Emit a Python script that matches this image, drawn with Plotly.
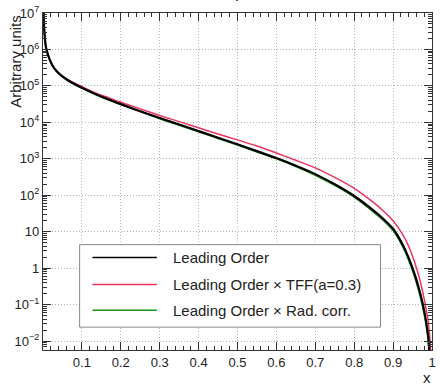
import plotly.graph_objects as go

# ---- data ----
x_lo = [0.0015, 0.004, 0.008, 0.017, 0.029, 0.042, 0.059, 0.076, 0.1, 0.13, 0.16, 0.2, 0.23, 0.27,
        0.3, 0.35, 0.4, 0.45, 0.5, 0.55, 0.6, 0.65, 0.7, 0.75, 0.8, 0.85, 0.875, 0.9, 0.91, 0.92, 0.93, 0.94,
        0.95, 0.96, 0.97, 0.98, 0.99, 0.994]
logy_lo = [7.0, 6.41, 6.04, 5.73, 5.48, 5.33, 5.19, 5.08, 4.95, 4.80, 4.665, 4.50, 4.38, 4.23,
           4.12, 3.94, 3.76, 3.58, 3.40, 3.21, 3.02, 2.81, 2.58, 2.30, 1.98, 1.58, 1.35, 1.08, 0.92, 0.74,
           0.53, 0.28, 0.0, -0.32, -0.70, -1.17, -1.85, -2.4]

x_tff = [0.0015, 0.004, 0.008, 0.017, 0.029, 0.042, 0.059, 0.076, 0.1, 0.13, 0.16, 0.2, 0.23, 0.27,
         0.3, 0.35, 0.4, 0.45, 0.5, 0.55, 0.6, 0.65, 0.7, 0.75, 0.8, 0.85, 0.875, 0.9, 0.91, 0.92, 0.93, 0.94,
         0.95, 0.96, 0.97, 0.98, 0.99, 0.995, 0.998]
logy_tff = [7.0, 6.41, 6.04, 5.73, 5.48, 5.33, 5.20, 5.10, 4.98, 4.83, 4.71, 4.55, 4.44, 4.30,
            4.19, 4.02, 3.85, 3.68, 3.52, 3.35, 3.16, 2.96, 2.75, 2.49, 2.19, 1.80, 1.57, 1.30, 1.16, 1.00,
            0.82, 0.60, 0.33, 0.01, -0.37, -0.85, -1.45, -2.0, -2.6]

x_rad = [0.0015, 0.004, 0.008, 0.017, 0.029, 0.042, 0.059, 0.076, 0.1, 0.13, 0.16, 0.2, 0.23, 0.27,
         0.3, 0.35, 0.4, 0.45, 0.5, 0.55, 0.6, 0.65, 0.7, 0.75, 0.8, 0.85, 0.875, 0.9, 0.91, 0.92, 0.93, 0.94,
         0.95, 0.96, 0.97, 0.98, 0.99, 0.993]
logy_rad = [7.0, 6.41, 6.04, 5.73, 5.48, 5.33, 5.19, 5.07, 4.94, 4.79, 4.655, 4.49, 4.37, 4.22,
            4.10, 3.92, 3.74, 3.56, 3.38, 3.19, 3.00, 2.79, 2.55, 2.27, 1.95, 1.54, 1.31, 1.03, 0.87, 0.68,
            0.47, 0.21, -0.07, -0.40, -0.79, -1.27, -1.97, -2.5]

y_lo = [10 ** v for v in logy_lo]
y_tff = [10 ** v for v in logy_tff]
y_rad = [10 ** v for v in logy_rad]

legend_labels = ["Leading Order", "Leading Order \u00d7 TFF(a=0.3)", "Leading Order \u00d7 Rad. corr."]
colors = ["#000000", "#e8345e", "#1f8f1f"]

y_tickvals = [1e-2, 1e-1, 1, 10, 1e2, 1e3, 1e4, 1e5, 1e6, 1e7]
y_ticktext = ["10<sup>\u22122</sup>", "10<sup>\u22121</sup>", "1", "10", "10<sup>2</sup>",
              "10<sup>3</sup>", "10<sup>4</sup>", "10<sup>5</sup>", "10<sup>6</sup>", "10<sup>7</sup>"]
x_tickvals = [0.1, 0.2, 0.3, 0.4, 0.5, 0.6, 0.7, 0.8, 0.9, 1.0]
x_ticktext = ["0.1", "0.2", "0.3", "0.4", "0.5", "0.6", "0.7", "0.8", "0.9", "1"]

FONT = "Liberation Sans, Arial, sans-serif"

fig = go.Figure()
# draw order: green, red, black (black on top)
fig.add_trace(go.Scatter(x=x_rad, y=y_rad, mode="lines",
                         line=dict(color=colors[2], width=1.6, shape="spline", smoothing=0.7),
                         name=legend_labels[2], showlegend=False))
fig.add_trace(go.Scatter(x=x_tff, y=y_tff, mode="lines",
                         line=dict(color=colors[1], width=1.5, shape="spline", smoothing=0.7),
                         name=legend_labels[1], showlegend=False))
fig.add_trace(go.Scatter(x=x_lo, y=y_lo, mode="lines",
                         line=dict(color=colors[0], width=2.2, shape="spline", smoothing=0.7),
                         name=legend_labels[0], showlegend=False))

# minor ticks for log axis
minor_y = []
for e in range(-3, 7):
    for m in range(2, 10):
        minor_y.append(m * 10 ** e)

W, H = 440, 386
ml, mr, mt, mb = 43, 4, 11, 36
pw, ph = W - ml - mr, H - mt - mb


def px(xp):
    return (xp - ml) / pw


def py(yp):
    return (H - mb - yp) / ph


fig.update_layout(
    width=W, height=H,
    margin=dict(l=ml, r=mr, t=mt, b=mb, pad=0),
    paper_bgcolor="white", plot_bgcolor="white",
    font=dict(family=FONT, size=13, color="#222222"),
    showlegend=False,
)

GRID = dict(showgrid=True, gridcolor="#b4b4b4", griddash="1px,2px", gridwidth=1)

fig.update_xaxes(
    range=[0, 1], tickmode="array", tickvals=x_tickvals, ticktext=x_ticktext,
    ticks="inside", ticklen=8, tickcolor="#333", showline=True, linecolor="#333", linewidth=1.2,
    mirror="ticks", zeroline=False, tickfont=dict(size=13),
    minor=dict(dtick=0.02, tick0=0, ticks="inside", ticklen=4, tickcolor="#333", showgrid=False),
    **GRID,
)
fig.update_yaxes(
    type="log", range=[-2.245, 7], tickmode="array", tickvals=y_tickvals, ticktext=y_ticktext,
    ticks="inside", ticklen=8, tickcolor="#333", showline=True, linecolor="#333", linewidth=1.2,
    mirror="ticks", zeroline=False, tickfont=dict(size=13),
    minor=dict(tickmode="array", tickvals=minor_y, ticks="inside", ticklen=4, tickcolor="#333", showgrid=False),
    **GRID,
)

# custom legend
shapes = [dict(type="rect", xref="paper", yref="paper", x0=px(80), x1=px(384), y0=py(327), y1=py(244),
               line=dict(color="#888888", width=1), fillcolor="white", layer="above")]
annotations = []
rows = [257, 284, 310]
for lab, col, r in zip(legend_labels, colors, rows):
    shapes.append(dict(type="line", xref="paper", yref="paper", x0=px(93), x1=px(158), y0=py(r), y1=py(r),
                       line=dict(color=col, width=1.5), layer="above"))
    annotations.append(dict(xref="paper", yref="paper", x=px(172), y=py(r), xanchor="left", yanchor="middle",
                            text=lab, showarrow=False, font=dict(size=15, color="#222222")))

# axis titles
annotations.append(dict(xref="paper", yref="paper", x=px(437), y=py(378), xanchor="right", yanchor="middle",
                        text="x", showarrow=False, font=dict(size=15, color="#222222")))
annotations.append(dict(xref="paper", yref="paper", x=px(15), y=py(11), xanchor="center", yanchor="top",
                        text="Arbitrary units", textangle=-90, showarrow=False,
                        font=dict(size=15, color="#222222")))
# title (mostly cut off at the top of the canvas)
annotations.append(dict(xref="paper", yref="paper", x=px(230), y=py(1), xanchor="center", yanchor="bottom",
                        text="Electron spectrum", showarrow=False, font=dict(size=16, color="#222222")))

fig.update_layout(shapes=shapes, annotations=annotations)

fig.write_html("out.html", config={"displayModeBar": False},
               post_script="document.body.style.margin='0';document.body.style.overflow='hidden';")
